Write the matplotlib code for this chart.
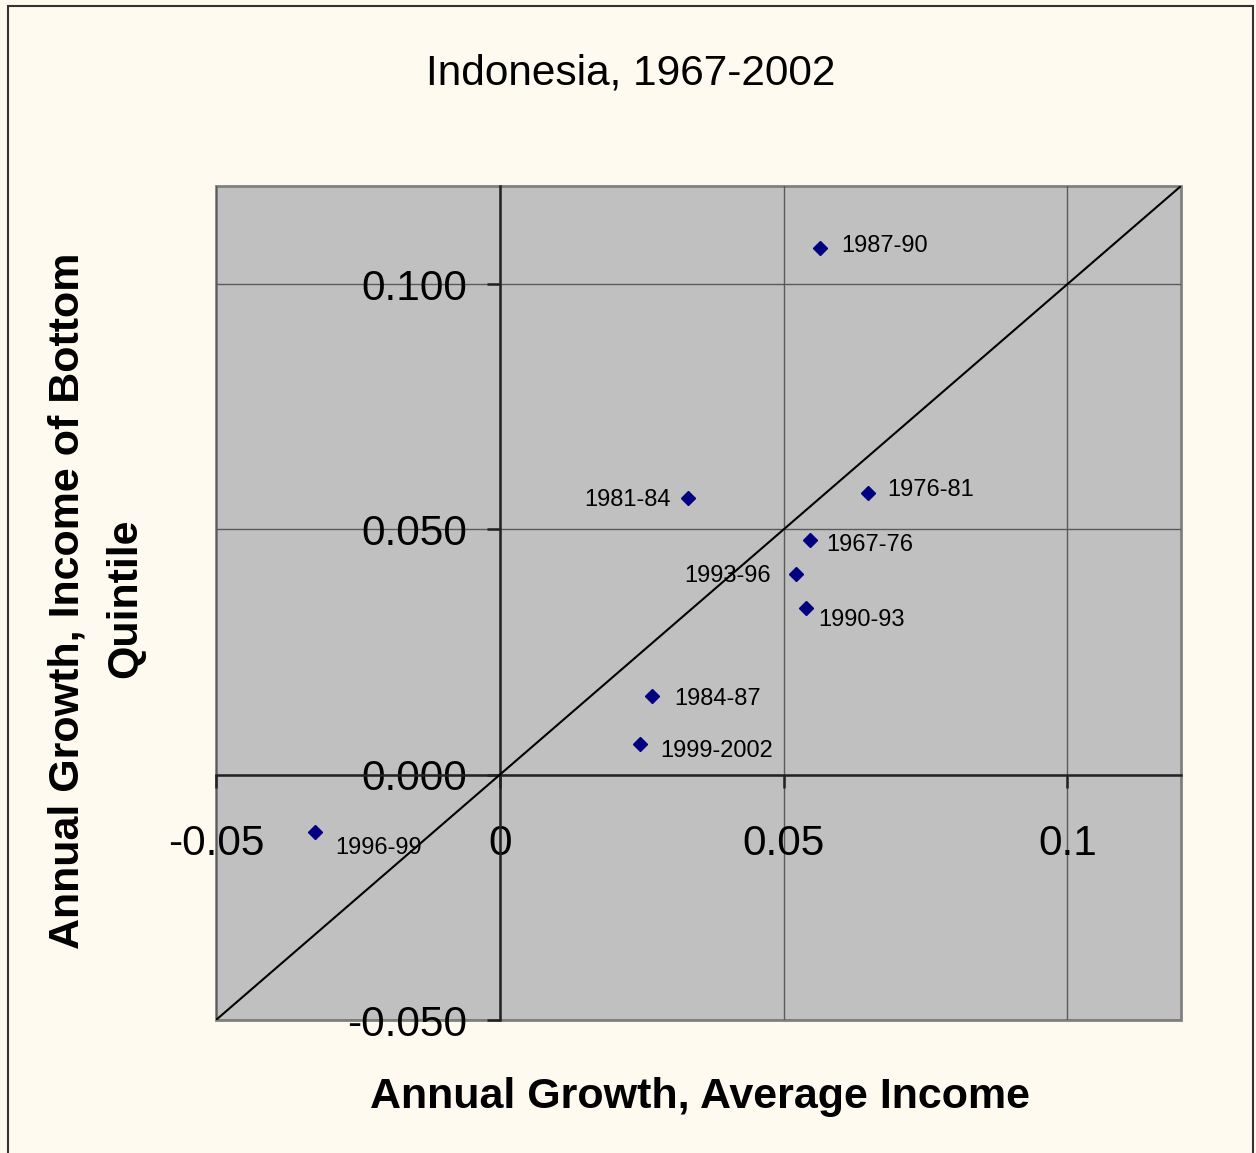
import matplotlib
matplotlib.use("Agg")
import matplotlib.pyplot as plt
from matplotlib.patches import Rectangle

plt.rcParams['font.family'] = ['Liberation Sans', 'DejaVu Sans']

# ---- data ----
periods = ['1967-76', '1976-81', '1981-84', '1984-87', '1987-90',
           '1990-93', '1993-96', '1996-99', '1999-2002']
avg_growth = [0.0547, 0.0649, 0.0332, 0.0268, 0.0564,
              0.0540, 0.0522, -0.0325, 0.0247]
bottom_growth = [0.0479, 0.0574, 0.0564, 0.0161, 0.1073,
                 0.0340, 0.0409, -0.0116, 0.0063]
x_ticks = [-0.05, 0, 0.05, 0.1]
x_tick_labels = ['-0.05', '0', '0.05', '0.1']
y_ticks = [-0.05, 0, 0.05, 0.1]
y_tick_labels = ['-0.050', '0.000', '0.050', '0.100']
title = 'Indonesia, 1967-2002'
x_label = 'Annual Growth, Average Income'
y_label_lines = ['Annual Growth, Income of Bottom', 'Quintile']

# ---- layout (label offsets in pixels: dx, dy, ha) ----
label_offsets = {
    '1967-76': (16, -5, 'left'),
    '1976-81': (19, 3, 'left'),
    '1981-84': (-18, -2, 'right'),
    '1984-87': (22, -3, 'left'),
    '1987-90': (21, 2, 'left'),
    '1990-93': (12, -12, 'left'),
    '1993-96': (-25, -2, 'right'),
    '1996-99': (20, -16, 'left'),
    '1999-2002': (20, -7, 'left'),
}

W, H = 1256, 1153
fig = plt.figure(figsize=(W / 100, H / 100), dpi=100)
fig.patch.set_facecolor('#FFFAF0')

# outer border
fig.patches.append(Rectangle((8 / W, -0.02), (1253 - 8) / W, 1.02 - 6 / H,
                             transform=fig.transFigure, fill=False,
                             edgecolor='#333333', linewidth=1.5, zorder=0))

L, R, T, B = 216, 1181, 186, 1020
ax = fig.add_axes([L / W, 1 - B / H, (R - L) / W, (B - T) / H])
ax.set_facecolor('#C0C0C0')
ax.patch.set_edgecolor('#808080')
ax.patch.set_linewidth(2)
ax.set_xlim(-0.05, 0.12)
ax.set_ylim(-0.05, 0.12)

for s in ['top', 'right']:
    ax.spines[s].set_visible(False)
for s in ['left', 'bottom']:
    ax.spines[s].set_position(('data', 0))
    ax.spines[s].set_color('#222222')
    ax.spines[s].set_linewidth(1.8)
    ax.spines[s].set_zorder(2)

ax.set_xticks(x_ticks)
ax.set_xticklabels(x_tick_labels)
ax.set_yticks(y_ticks)
ax.set_yticklabels(y_tick_labels)
ax.tick_params(axis='x', direction='out', length=9.5, width=1.8, color='#222222',
               labelsize=30.5, pad=26)
ax.tick_params(axis='y', direction='out', length=9.5, width=1.8, color='#222222',
               labelsize=30.5, pad=14)
ax.grid(True, color='#5a5a5a', linewidth=1.0, zorder=0)
ax.set_axisbelow(True)

ax.axline((0, 0), slope=1, color='black', linewidth=1.5, zorder=3)

ax.plot(avg_growth, bottom_growth, linestyle='none', marker='D',
        markersize=7.5, color='#000080', zorder=4)

for p, xv, yv in zip(periods, avg_growth, bottom_growth):
    dx, dy, ha = label_offsets[p]
    ax.annotate(p, (xv, yv), xytext=(dx, dy), textcoords='offset pixels',
                ha=ha, va='center', fontsize=17, color='black', zorder=5)

fig.text(631 / W, 1 - 73 / H, title, ha='center', va='center', fontsize=30.5)
fig.text(700 / W, 1 - 1097 / H, x_label, ha='center', va='center',
         fontsize=31, fontweight='bold')

fig.text(68 / W, 1 - 601 / H, y_label_lines[0], rotation=90,
         ha='center', va='center', fontsize=31, fontweight='bold')
fig.text(125 / W, 1 - 598 / H, y_label_lines[1], rotation=90,
         ha='center', va='center', fontsize=31, fontweight='bold')

fig.savefig('out.png', dpi=100, facecolor=fig.get_facecolor())
